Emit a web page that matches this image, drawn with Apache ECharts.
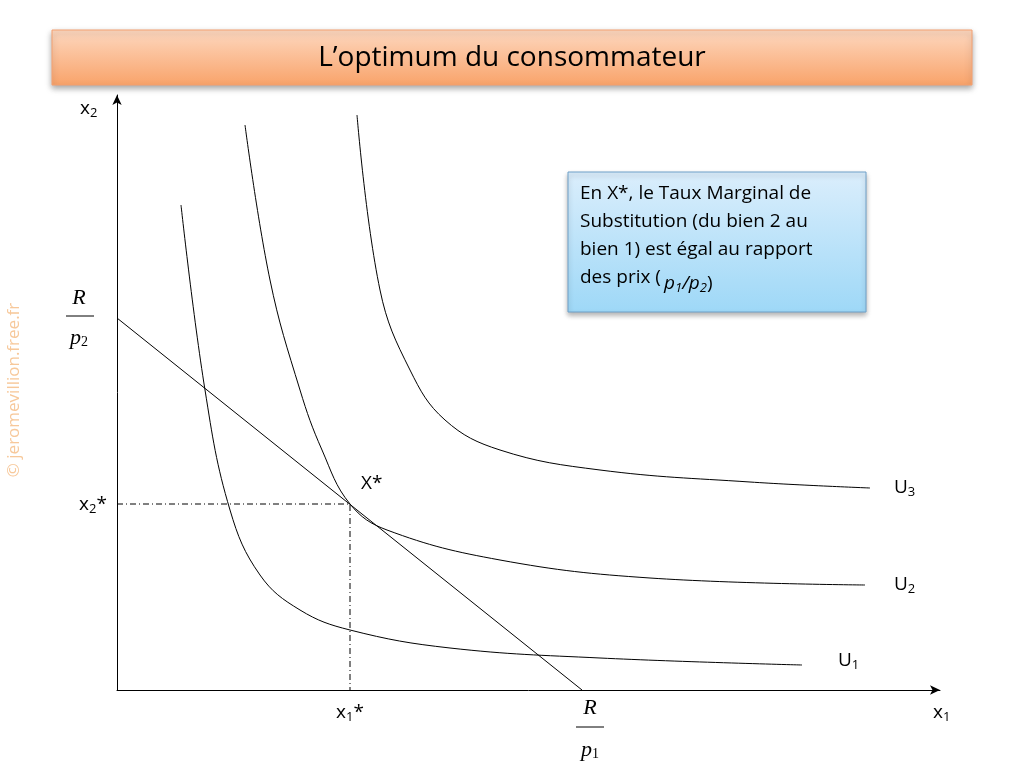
<!DOCTYPE html>
<html>
<head>
<meta charset="utf-8">
<script src="https://cdn.jsdelivr.net/npm/echarts@6/dist/echarts.min.js"></script>
<style>html,body{margin:0;padding:0;background:#fff}#main{width:1024px;height:768px}</style>
</head>
<body>
<div id="main"></div>
<script>
// curve points, x1 / x2 in axis units
var u1 = [[64,485],[88,300],[113,180],[143,115],[183,80],[233,60],[333,42],[483,32],[685,25]];
var u2 = [[128,565],[153,410],[183,300],[205,240],[233,186],[270,160],[383,130],[533,112],[748,105]];
var u3 = [[240,575],[263,400],[293,320],[328,270],[383,240],[483,220],[633,208],[753,202]];
var budget = [[0,372],[465,0]];
var optimum = [233,186];

var chart = echarts.init(document.getElementById('main'));
var black = {color:'#000', width:1};
function sub(base, s, extra) {
	return '{a|' + base + '}{s|' + s + '}' + (extra ? '{a|' + extra + '}' : '');
}
var rich = {a:{fontSize:19, fontFamily:'Open Sans', fill:'#000'}, s:{fontSize:13, fontFamily:'Open Sans', fill:'#000', padding:[9,0,0,0]}};
var serif = {fontSize:22, fontFamily:'Liberation Serif', fontStyle:'italic', fill:'#000'};
var opt = {
	animation: false,
	grid: {left:117, top:95, right:84, bottom:78},
	xAxis: {type:'value', min:0, max:823, axisLine:{lineStyle:black, symbol:['none','arrow'], symbolSize:[7,10]}, axisTick:{show:false}, axisLabel:{show:false}, splitLine:{show:false}},
	yAxis: {type:'value', min:0, max:595, axisLine:{show:true, lineStyle:black, symbol:['none','arrow'], symbolSize:[7,10]}, axisTick:{show:false}, axisLabel:{show:false}, splitLine:{show:false}},
	series: [
		{type:'line', data:u1, smooth:0.4, symbol:'none', lineStyle:black},
		{type:'line', data:u2, smooth:0.4, symbol:'none', lineStyle:black},
		{type:'line', data:u3, smooth:0.4, symbol:'none', lineStyle:black},
		{type:'line', data:budget, symbol:'none', lineStyle:black},
		{type:'line', data:[[0,optimum[1]],optimum,[optimum[0],0]], symbol:'none', lineStyle:{color:'#000', width:1, type:[6,3,1,3]}}
	],
	graphic: [
		{type:'rect', shape:{x:52, y:30, width:920, height:55}, style:{fill:new echarts.graphic.LinearGradient(0,0,0,1,[{offset:0,color:'#fdd8c0'},{offset:1,color:'#f9a36a'}]), stroke:'#f4a070', shadowBlur:6, shadowOffsetY:3, shadowColor:'rgba(0,0,0,0.35)'}},
		{type:'text', x:512, y:58, style:{text:'L\u2019optimum du consommateur', fontSize:28, fontFamily:'Open Sans', fill:'#000', align:'center', verticalAlign:'middle'}},
		{type:'rect', shape:{x:568, y:172, width:298, height:140}, style:{fill:new echarts.graphic.LinearGradient(0,0,0,1,[{offset:0,color:'#dbeefc'},{offset:1,color:'#9ed8f7'}]), stroke:'#6fa0c8', shadowBlur:5, shadowOffsetY:3, shadowColor:'rgba(0,0,0,0.3)'}},
		{type:'text', x:580, y:180, style:{text:'En X*, le Taux Marginal de\nSubstitution (du bien 2 au\nbien 1) est égal au rapport\ndes prix (', fontSize:19, lineHeight:28, fontFamily:'Open Sans', fill:'#000'}},
		{type:'text', x:664, y:273, style:{text:'{i|p}{s|1}{i|/p}{s|2}{a|)}', rich:{i:{fontSize:19, fontStyle:'italic', fontFamily:'Open Sans', fill:'#000'}, s:{fontSize:13, fontStyle:'italic', fontFamily:'Open Sans', fill:'#000', padding:[9,0,0,0]}, a:{fontSize:19, fontFamily:'Open Sans', fill:'#000'}}}},
		{type:'text', x:14, y:390, rotation:Math.PI/2, style:{text:'© jeromevillion.free.fr', fontSize:17, fontFamily:'Open Sans', fill:'#f7c89a', align:'center', verticalAlign:'middle'}},
		{type:'text', x:80, y:98, style:{text:sub('x','2'), rich:rich}},
		{type:'text', x:79, y:494, style:{text:sub('x','2','*'), rich:rich}},
		{type:'text', x:336, y:702, style:{text:sub('x','1','*'), rich:rich}},
		{type:'text', x:933, y:702, style:{text:sub('x','1'), rich:rich}},
		{type:'text', x:361, y:474, style:{text:'X*', fontSize:19, fontFamily:'Open Sans', fill:'#000'}},
		{type:'text', x:894, y:477, style:{text:sub('U','3'), rich:rich}},
		{type:'text', x:894, y:574, style:{text:sub('U','2'), rich:rich}},
		{type:'text', x:838, y:650, style:{text:sub('U','1'), rich:rich}},
		{type:'text', x:79, y:298, style:Object.assign({text:'R', align:'center', verticalAlign:'middle'}, serif)},
		{type:'line', shape:{x1:66, y1:316, x2:94, y2:316}, style:{stroke:'#000', lineWidth:1}},
		{type:'text', x:79, y:338, style:{text:'{i|p}{s|2}', align:'center', verticalAlign:'middle', rich:{i:{fontSize:22, fontStyle:'italic', fontFamily:'Liberation Serif', fill:'#000'}, s:{fontSize:14, fontFamily:'Liberation Serif', fill:'#000', padding:[8,0,0,0]}}}},
		{type:'text', x:590, y:708, style:Object.assign({text:'R', align:'center', verticalAlign:'middle'}, serif)},
		{type:'line', shape:{x1:576, y1:727, x2:604, y2:727}, style:{stroke:'#000', lineWidth:1}},
		{type:'text', x:590, y:750, style:{text:'{i|p}{s|1}', align:'center', verticalAlign:'middle', rich:{i:{fontSize:22, fontStyle:'italic', fontFamily:'Liberation Serif', fill:'#000'}, s:{fontSize:14, fontFamily:'Liberation Serif', fill:'#000', padding:[8,0,0,0]}}}}
	]
};
chart.setOption(opt);
</script>
</body>
</html>
